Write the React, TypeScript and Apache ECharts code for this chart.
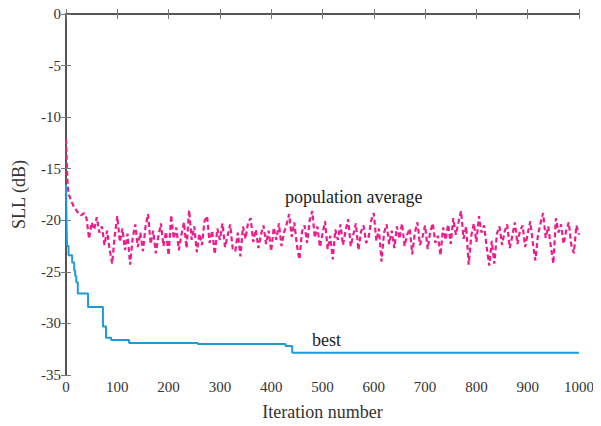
import React, { useEffect, useRef } from "react";
import * as echarts from "echarts";

const xTicks = [0, 100, 200, 300, 400, 500, 600, 700, 800, 900, 1000];
const yTicks = [0, -5, -10, -15, -20, -25, -30, -35];

const bestIter = [0, 1, 2, 5, 12, 16, 18, 20, 23, 43, 72, 78, 88, 123, 257, 428, 441, 1000];
const bestSLL = [-16.5, -20, -22.5, -23.4, -24.1, -24.9, -25.4, -26, -27.1, -28.4, -30.3, -31.4, -31.6, -31.9, -32.0, -32.2, -32.85, -32.9];

const avgEarlyIter = [0, 1, 2, 3, 5, 8, 10, 13, 16, 20, 25];
const avgEarlySLL = [-12.1, -13.5, -15.2, -16.3, -17.5, -17.8, -18.2, -18.4, -18.8, -19.0, -19.4];

// population average, iterations 30..1000 every 5
const avgSLL = [
  -19.5, -19.3, -19.8, -21.8, -20.2, -20.9, -19.7, -21.2, -20.6, -22.4,
  -21.0, -22.8, -24.2, -21.5, -19.6, -22.1, -20.8, -22.9, -21.3, -24.3,
  -21.7, -20.4, -22.6, -21.2, -23.0, -20.6, -19.4, -22.3, -21.0, -23.2,
  -21.6, -20.3, -22.5, -21.1, -23.4, -19.5, -21.8, -20.7, -22.9, -21.4,
  -20.2, -22.7, -19.0, -21.9, -20.6, -23.1, -21.3, -22.4, -20.1, -19.6,
  -22.2, -21.0, -23.3, -20.8, -21.9, -20.3, -22.6, -21.5, -20.4, -22.8,
  -23.0, -21.2, -23.5, -20.6, -21.8, -20.2, -19.8, -22.1, -20.9, -22.7,
  -21.4, -20.5, -22.3, -21.0, -23.0, -20.7, -21.9, -20.3, -22.5, -21.2,
  -20.4, -19.4, -21.6, -20.2, -22.4, -23.8, -21.1, -20.5, -22.2, -20.0,
  -19.1, -21.7, -20.6, -22.6, -21.3, -20.1, -22.8, -21.5, -23.8, -20.9,
  -21.9, -20.4, -22.4, -21.0, -19.9, -22.5, -21.4, -20.3, -22.9, -21.1,
  -20.5, -22.2, -21.6, -20.0, -19.3, -22.0, -20.8, -24.0, -21.2, -20.4,
  -22.3, -21.0, -22.7, -20.6, -21.8, -20.3, -22.5, -21.4, -20.8, -23.3,
  -21.2, -20.2, -22.4, -21.6, -20.5, -22.8, -21.1, -20.3, -22.2, -21.5,
  -23.4, -20.7, -21.9, -20.4, -22.3, -19.8, -21.4, -20.2, -19.1, -21.8,
  -20.6, -24.3, -21.5, -20.3, -22.1, -19.6, -21.2, -20.5, -22.6, -24.4,
  -22.0, -24.2, -21.3, -20.6, -22.4, -21.1, -20.4, -22.7, -21.5, -20.2,
  -22.3, -21.0, -20.5, -22.6, -21.3, -20.1, -22.2, -23.9, -21.4, -20.3,
  -19.3, -21.7, -20.6, -22.5, -24.2, -19.8, -21.2, -20.4, -22.3, -21.0,
  -20.2, -22.4, -23.2, -20.5, -21.4,
];
const avgStart = 30;
const avgStep = 5;

const serif = "Liberation Serif";

export default function App() {
  const ref = useRef<HTMLDivElement>(null);
  useEffect(() => {
    if (!ref.current) return;
    const chart = echarts.init(ref.current, undefined, { renderer: "svg" });
    const avgData: number[][] = avgEarlyIter.map((x, i) => [x, avgEarlySLL[i]]);
    avgSLL.forEach((v, i) => avgData.push([avgStart + i * avgStep, v]));
    const bestData = bestIter.map((x, i) => [x, bestSLL[i]]);
    const axisLine = { show: true, lineStyle: { color: "#4a4a4a", width: 1.5 } };
    const axisTick = { show: true, inside: true, length: 5, lineStyle: { color: "#777", width: 1 } };
    chart.setOption({
      animation: false,
      backgroundColor: "#fff",
      textStyle: { fontFamily: serif },
      grid: { left: 66, top: 14, right: 22, bottom: 48 },
      xAxis: [
        {
          type: "value", min: 0, max: 1000, interval: 100, position: "bottom",
          axisLine, axisTick, splitLine: { show: false },
          axisLabel: { fontFamily: serif, fontSize: 15, color: "#333", margin: 4, formatter: (v: number) => (xTicks.includes(v) ? String(v) : "") },
          name: "Iteration number", nameLocation: "middle", nameGap: 28,
          nameTextStyle: { fontFamily: serif, fontSize: 18, color: "#333" },
        },
        {
          type: "value", min: 0, max: 1000, interval: 100, position: "top",
          axisLine, axisTick, splitLine: { show: false }, axisLabel: { show: false },
        },
      ],
      yAxis: [
        {
          type: "value", min: -35, max: 0, interval: 5, position: "left",
          axisLine, axisTick, splitLine: { show: false },
          axisLabel: { fontFamily: serif, fontSize: 15, color: "#333", margin: 5, formatter: (v: number) => (yTicks.includes(v) ? String(v) : "") },
          name: "SLL (dB)", nameLocation: "middle", nameGap: 38, nameRotate: 90,
          nameTextStyle: { fontFamily: serif, fontSize: 18, color: "#333" },
        },
        {
          type: "value", min: -35, max: 0, interval: 5, position: "right",
          axisLine, axisTick, splitLine: { show: false }, axisLabel: { show: false },
        },
      ],
      series: [
        {
          name: "population average", type: "line", data: avgData, showSymbol: false,
          lineStyle: { color: "#ec1c8c", width: 2.2, type: [5, 3] },
          z: 2,
        },
        {
          name: "best", type: "line", data: bestData, showSymbol: false, step: "end",
          lineStyle: { color: "#1e9ad8", width: 2 },
          z: 3,
        },
      ],
      graphic: [
        { type: "text", left: 285, top: 188, style: { text: "population average", fontFamily: serif, fontSize: 18, fill: "#222" } },
        { type: "text", left: 312, top: 331, style: { text: "best", fontFamily: serif, fontSize: 18, fill: "#222" } },
      ],
    });
    return () => chart.dispose();
  }, []);
  return <div ref={ref} style={{ width: 601, height: 426, margin: -8 }} />;
}
